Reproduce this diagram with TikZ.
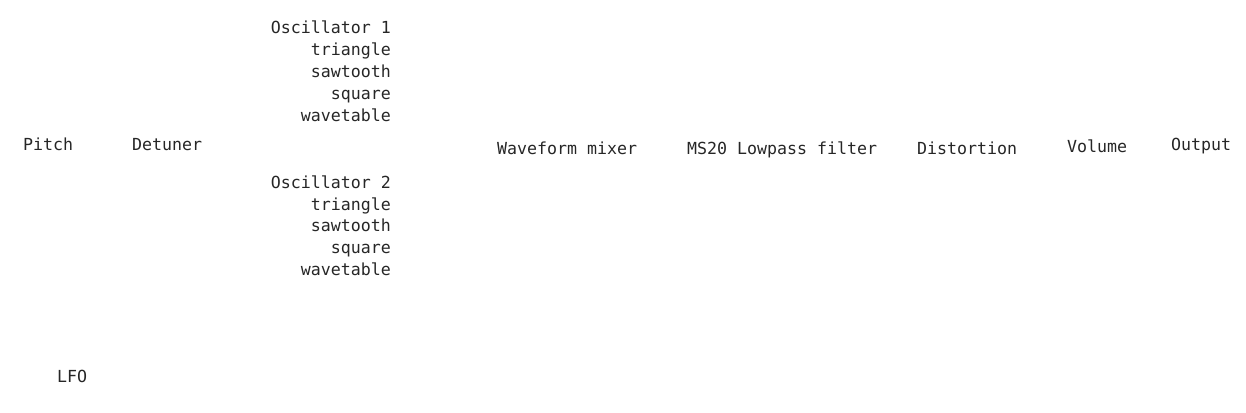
\documentclass[tikz,border=0pt]{standalone}
\usepackage{fontspec}
\setmonofont{DejaVu Sans Mono}
\begin{document}
\begin{tikzpicture}[x=0.75pt,y=-0.75pt,
  lbl/.style={inner sep=0pt,outer sep=0pt,font=\ttfamily\fontsize{12.46pt}{14pt}\selectfont,text=black!85},
  lw/.style={lbl,anchor=base west},
  le/.style={lbl,anchor=base east}]
\useasboundingbox (0,0) rectangle (1246,413);
\node[le] (o1) at (391,33.5) {Oscillator 1};
\node[le] (o1a) at (391,55.5) {triangle};
\node[le] (o1b) at (391,77.5) {sawtooth};
\node[le] (o1c) at (391,99.5) {square};
\node[le] (o1d) at (391,121.5) {wavetable};
\node[lw] (pitch) at (23,151) {Pitch};
\node[lw] (det) at (132,151) {Detuner};
\node[le] (o2) at (391,188.2) {Oscillator 2};
\node[le] (o2a) at (391,210.1) {triangle};
\node[le] (o2b) at (391,232) {sawtooth};
\node[le] (o2c) at (391,253.9) {square};
\node[le] (o2d) at (391,275.8) {wavetable};
\node[lw] (mix) at (497,154.3) {Waveform mixer};
\node[lw] (flt) at (687,154.3) {MS20 Lowpass filter};
\node[lw] (dist) at (917,154.3) {Distortion};
\node[lw] (vol) at (1067,153) {Volume};
\node[lw] (out) at (1171,151) {Output};
\node[lw] (lfo) at (57,382.7) {LFO};
\end{tikzpicture}
\end{document}
